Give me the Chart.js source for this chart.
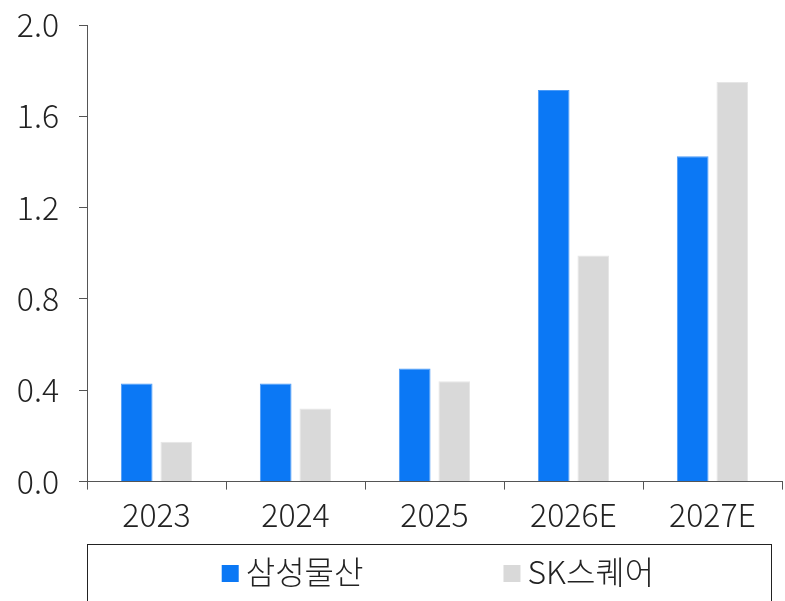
<!DOCTYPE html>
<html><head><meta charset="utf-8">
<script src="https://cdn.jsdelivr.net/npm/chart.js@4"></script>
<style>html,body{margin:0;padding:0;background:#fff}#wrap{width:785px;height:601px;position:relative}</style>
</head><body><div id="wrap"><canvas id="c" width="785" height="601"></canvas></div>
<script>
const categories = ['2023', '2024', '2025', '2026E', '2027E'];
const seriesNames = ['삼성물산', 'SK스퀘어'];
const samsungValues = [0.43, 0.43, 0.495, 1.715, 1.425];
const skValues = [0.175, 0.32, 0.44, 0.99, 1.75];
const yTicks = [0.0, 0.4, 0.8, 1.2, 1.6, 2.0];

const FONT = '"Noto Sans CJK KR", "Noto Sans", sans-serif';
const FS = 32;

const boxLegend = {
  id: 'boxLegend',
  afterDraw(chart) {
    const ctx = chart.ctx;
    const left = chart.chartArea.left, right = 771, top = 544.5;
    ctx.save();
    ctx.strokeStyle = '#222';
    ctx.lineWidth = 1;
    ctx.strokeRect(left + 0.5, top, right - left, 80);
    ctx.font = '300 ' + FS + 'px ' + FONT;
    ctx.textBaseline = 'middle';
    const box = 17, gap = 7, itemGap = 140;
    const items = chart.data.datasets.map(d => ({ label: d.label, color: d.backgroundColor, w: ctx.measureText(d.label).width }));
    const total = items.reduce((s, it) => s + box + gap + it.w, 0) + itemGap * (items.length - 1);
    let x = (left + right) / 2 - total / 2 + 9;
    const cy = 572;
    items.forEach(it => {
      ctx.fillStyle = it.color;
      ctx.fillRect(x, cy - box / 2 + 1.5, box, box);
      ctx.fillStyle = '#222';
      ctx.fillText(it.label, x + box + gap, cy);
      x += box + gap + it.w + itemGap;
    });
    ctx.restore();
  }
};

new Chart(document.getElementById('c'), {
  type: 'bar',
  data: {
    labels: categories,
    datasets: [
      { label: seriesNames[0], data: samsungValues, backgroundColor: '#0B78F5', borderColor: '#4C9BF7', borderWidth: 1 },
      { label: seriesNames[1], data: skValues, backgroundColor: '#D9D9D9', borderColor: '#E6E6E6', borderWidth: 1 }
    ]
  },
  options: {
    responsive: false,
    animation: false,
    devicePixelRatio: 1,
    layout: { padding: { left: 14, right: 3, top: 25, bottom: 61 } },
    plugins: { legend: { display: false }, tooltip: { enabled: false } },
    datasets: { bar: { categoryPercentage: 0.57, barPercentage: 0.8 } },
    scales: {
      x: {
        grid: { offset: true, drawOnChartArea: false, drawTicks: true, tickLength: 8, color: '#555' },
        border: { display: true, color: '#555', width: 1 },
        ticks: { color: '#222', font: { family: FONT, size: FS, weight: 300 }, padding: 6 }
      },
      y: {
        min: 0, max: 2.0,
        afterBuildTicks(scale) { scale.ticks = yTicks.map(v => ({ value: v })); },
        afterFit(scale) { scale.width = 73; scale.paddingTop = 0; scale.paddingBottom = 0; },
        grid: { drawOnChartArea: false, drawTicks: true, tickLength: 8, color: '#555' },
        border: { display: true, color: '#555', width: 1 },
        ticks: { color: '#222', font: { family: FONT, size: FS, weight: 300 }, padding: 20, callback: v => Number(v).toFixed(1) }
      }
    }
  },
  plugins: [boxLegend]
});
</script></body></html>
